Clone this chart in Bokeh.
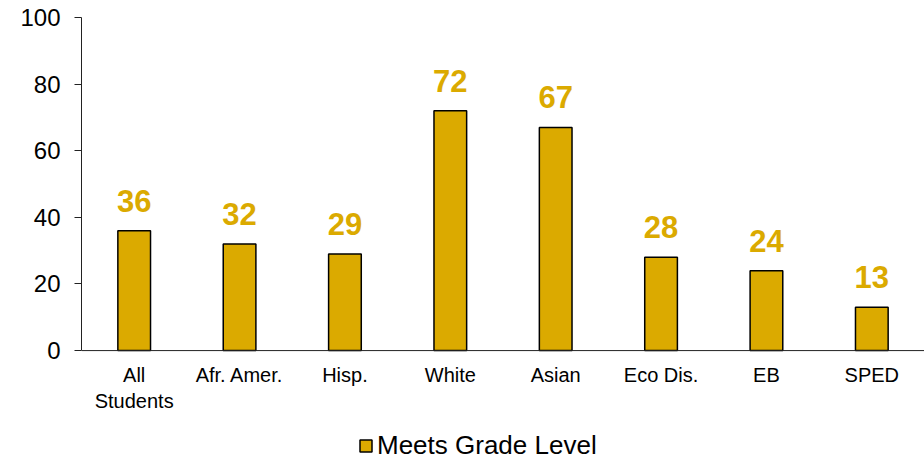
from bokeh.plotting import figure
from bokeh.models import ColumnDataSource, Legend, LegendItem, Range1d, FactorRange, Span
from bokeh.embed import file_html
from bokeh.resources import INLINE
from bokeh.core.properties import value

categories = ["All\nStudents", "Afr. Amer.", "Hisp.", "White", "Asian", "Eco Dis.", "EB", "SPED"]
meets = [36, 32, 29, 72, 67, 28, 24, 13]
series_name = "Meets Grade Level"
y_ticks = [0, 20, 40, 60, 80, 100]

GOLD = "#DBAA00"
FONT = "Liberation Sans"

src = ColumnDataSource(dict(cat=categories, val=meets, lbl=[str(v) for v in meets],
                            zero=[0] * len(meets)))

# frame spans the full lower area; y=0 sits where the category axis is drawn
p = figure(width=924, height=461, x_range=FactorRange(*categories, range_padding=0),
           y_range=Range1d(-33.3, 100), output_backend="svg", toolbar_location=None,
           min_border_left=81, min_border_right=0, min_border_top=17, min_border_bottom=0)
p.outline_line_color = None
p.xgrid.grid_line_color = None
p.ygrid.grid_line_color = None
p.xaxis.visible = False

r = p.vbar(x="cat", top="val", width=0.31, source=src, fill_color=GOLD,
           line_color="black", line_width=1.5)

p.add_layout(Span(location=0, dimension="width", line_color="#222222", line_width=1))

# category labels under the baseline
p.text(x="cat", y="zero", text="cat", source=src, text_align="center",
       text_baseline="top", y_offset=13, text_color="black",
       text_font=value(FONT), text_font_size="20px", text_line_height=1.2)

# value labels above bars
p.text(x="cat", y="val", text="lbl", source=src, text_align="center",
       text_baseline="bottom", y_offset=-19, text_color=GOLD,
       text_font=value(FONT), text_font_style="bold", text_font_size="31px")

p.yaxis.ticker = y_ticks
p.yaxis.bounds = (0, 100)
p.yaxis.major_label_text_font = FONT
p.yaxis.major_label_text_font_size = "24px"
p.yaxis.major_label_text_color = "black"
p.yaxis.major_label_standoff = 14
p.yaxis.major_tick_out = 7
p.yaxis.major_tick_in = 0
p.yaxis.minor_tick_line_color = None
p.yaxis.axis_line_color = "#222222"
p.yaxis.major_tick_line_color = "#222222"

legend = Legend(items=[LegendItem(label=series_name, renderers=[r])],
                location=(277, 0), orientation="horizontal",
                label_text_font=FONT, label_text_font_size="26px",
                label_text_color="black",
                glyph_width=15, glyph_height=15, label_standoff=4,
                border_line_color=None, background_fill_alpha=0,
                padding=0, margin=0, spacing=0)
p.add_layout(legend, "center")

open("out.html", "w").write(file_html(p, INLINE))
